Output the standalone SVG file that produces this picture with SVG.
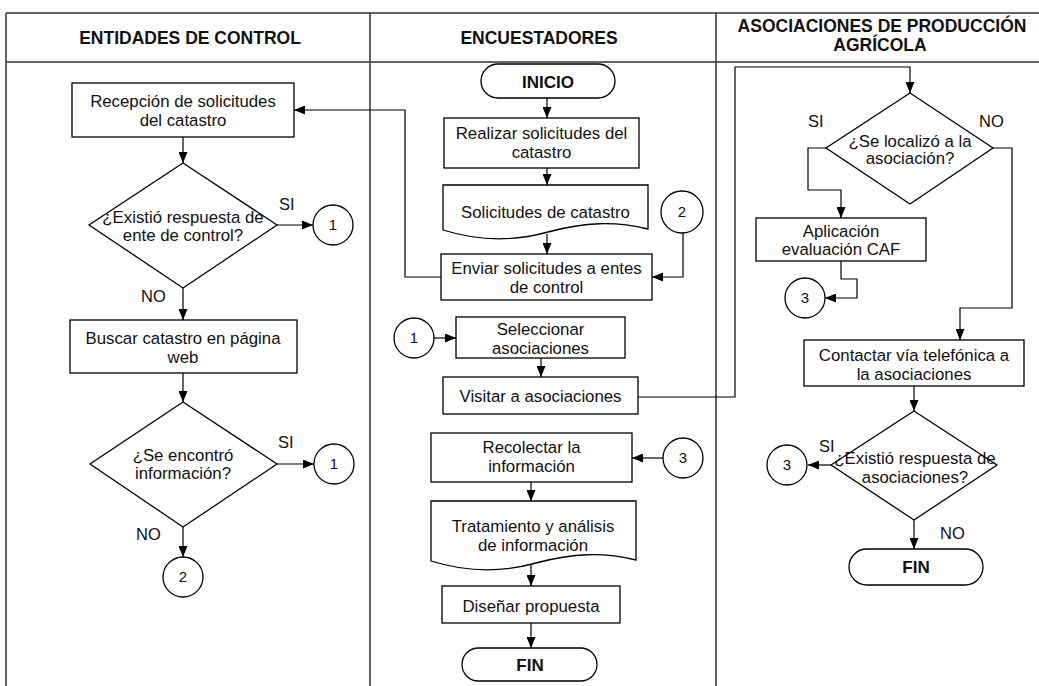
<svg xmlns="http://www.w3.org/2000/svg" width="1039" height="686" viewBox="0 0 1039 686">
<defs>
<marker id="ah" markerUnits="userSpaceOnUse" markerWidth="11" markerHeight="9" refX="11" refY="4.5" orient="auto"><path d="M0,0 L11,4.5 L0,9 Z" fill="#000"/></marker>
<style>
.frame{stroke:#333;stroke-width:1.5;fill:none}
.box{fill:#fff;stroke:#000;stroke-width:1.3}
.con{fill:none;stroke:#000;stroke-width:1.2}
.arr{fill:none;stroke:#000;stroke-width:1.2;marker-end:url(#ah)}
text{font-family:"Liberation Sans",Arial,sans-serif;fill:#111;text-anchor:middle}
.t{font-size:16.8px}
.h{font-size:17.5px;font-weight:bold}
.b{font-size:17px;font-weight:bold}
.n{font-size:15px}
.lbl{font-size:16.5px;text-anchor:start}
</style>
</defs>
<rect width="1039" height="686" fill="#fff"/>
<g id="frame">
<path class="frame" d="M6,13 H1039 M6,62 H1039 M6,13 V686 M370,13 V686 M716,13 V686"/>
<text class="h" x="190" y="44">ENTIDADES DE CONTROL</text>
<text class="h" x="539" y="44">ENCUESTADORES</text>
<text class="h" x="882" y="32">ASOCIACIONES DE PRODUCCIÓN</text>
<text class="h" x="880" y="51">AGRÍCOLA</text>
</g>
<g id="connectors">
<path class="arr" d="M183,137 V163"/>
<path class="arr" d="M277,225 H313"/>
<path class="arr" d="M183,288 V320"/>
<path class="arr" d="M183,373 V402"/>
<path class="arr" d="M277,464 H314"/>
<path class="arr" d="M183,527 V557"/>
<path class="arr" d="M547,98 V118"/>
<path class="arr" d="M547,168 V185"/>
<path class="arr" d="M547,234 V254"/>
<path class="arr" d="M683,233 V277 H652"/>
<path class="arr" d="M441,277 H405 V110 H294"/>
<path class="arr" d="M434,338 H456"/>
<path class="arr" d="M541,358 V377"/>
<path class="arr" d="M638,397 H735 V67 H910 V93"/>
<path class="arr" d="M663,458 H632"/>
<path class="arr" d="M531,482 V501"/>
<path class="arr" d="M531,565 V586"/>
<path class="arr" d="M531,623 V648"/>
<path class="arr" d="M826,148 H808 V190 H841 V218"/>
<path class="arr" d="M841,261 V279 H857 V298 H825"/>
<path class="arr" d="M993,148 H1012 V308 H960 V340"/>
<path class="arr" d="M914,386 V411"/>
<path class="arr" d="M831,465 H808"/>
<path class="arr" d="M914,520 V549"/>
</g>
<g id="n_recepcion"><rect class="box" x="72" y="83" width="222" height="54"/><text class="t" x="183" y="107">Recepción de solicitudes</text><text class="t" x="183" y="126">del catastro</text></g>
<g id="n_dec1"><polygon class="box" points="183,163 277,225 183,288 89,225"/><text class="t" x="183" y="223">¿Existió respuesta de</text><text class="t" x="183" y="241">ente de control?</text></g>
<text class="lbl" x="279" y="210">SI</text>
<text class="lbl" x="141" y="302">NO</text>
<g id="n_c1a"><circle class="box" cx="333" cy="225" r="20"/><text class="n" x="333" y="230">1</text></g>
<g id="n_buscar"><rect class="box" x="70" y="320" width="227" height="53"/><text class="t" x="183" y="344">Buscar catastro en página</text><text class="t" x="183" y="363">web</text></g>
<g id="n_dec2"><polygon class="box" points="183,402 277,464 183,527 90,464"/><text class="t" x="183" y="461">¿Se encontró</text><text class="t" x="183" y="479">información?</text></g>
<text class="lbl" x="278" y="448">SI</text>
<text class="lbl" x="136" y="540">NO</text>
<g id="n_c1b"><circle class="box" cx="334" cy="464" r="20"/><text class="n" x="334" y="469">1</text></g>
<g id="n_c2a"><circle class="box" cx="183" cy="577" r="20"/><text class="n" x="183" y="582">2</text></g>
<g id="n_inicio"><rect class="box" x="481" y="64" width="134" height="34" rx="17"/><text class="b" x="548" y="88">INICIO</text></g>
<g id="n_realizar"><rect class="box" x="444" y="118" width="195" height="50"/><text class="t" x="541.5" y="139">Realizar solicitudes del</text><text class="t" x="541.5" y="158">catastro</text></g>
<g id="n_doc1"><path class="box" d="M443,185 H648 V229 C615,221 585,222 548,232 C512,242 475,240 443,230 Z"/><text class="t" x="545.5" y="218">Solicitudes de catastro</text></g>
<g id="n_c2b"><circle class="box" cx="682" cy="212" r="21"/><text class="n" x="682" y="217">2</text></g>
<g id="n_enviar"><rect class="box" x="441" y="254" width="211" height="46"/><text class="t" x="546.5" y="274">Enviar solicitudes a entes</text><text class="t" x="546.5" y="293">de control</text></g>
<g id="n_c1c"><circle class="box" cx="414" cy="338" r="20"/><text class="n" x="414" y="343">1</text></g>
<g id="n_selec"><rect class="box" x="456" y="317" width="169" height="41"/><text class="t" x="540.5" y="335">Seleccionar</text><text class="t" x="540.5" y="354">asociaciones</text></g>
<g id="n_visitar"><rect class="box" x="443" y="377" width="195" height="37"/><text class="t" x="540.5" y="402">Visitar a asociaciones</text></g>
<g id="n_recolectar"><rect class="box" x="431" y="433" width="201" height="49"/><text class="t" x="531.5" y="453">Recolectar la</text><text class="t" x="531.5" y="472">información</text></g>
<g id="n_c3a"><circle class="box" cx="683" cy="458" r="20"/><text class="n" x="683" y="463">3</text></g>
<g id="n_doc2"><path class="box" d="M431,501 H636 V560 C603,552 573,553 536,563 C500,573 463,571 431,561 Z"/><text class="t" x="533" y="532">Tratamiento y análisis</text><text class="t" x="533" y="551">de información</text></g>
<g id="n_disenar"><rect class="box" x="442" y="586" width="178" height="37"/><text class="t" x="531" y="612">Diseñar propuesta</text></g>
<g id="n_fin1"><rect class="box" x="462" y="648" width="135" height="33" rx="16.5"/><text class="b" x="530" y="671">FIN</text></g>
<g id="n_dec3"><polygon class="box" points="910,93 993,148 910,204 826,148"/><text class="t" x="910" y="147">¿Se localizó a la</text><text class="t" x="910" y="164">asociación?</text></g>
<text class="lbl" x="808" y="127">SI</text>
<text class="lbl" x="979" y="127">NO</text>
<g id="n_caf"><rect class="box" x="756" y="218" width="170" height="43"/><text class="t" x="841" y="237">Aplicación</text><text class="t" x="841" y="255">evaluación CAF</text></g>
<g id="n_c3b"><circle class="box" cx="805" cy="298" r="20"/><text class="n" x="805" y="303">3</text></g>
<g id="n_contactar"><rect class="box" x="804" y="340" width="220" height="46"/><text class="t" x="914" y="361">Contactar vía telefónica a</text><text class="t" x="914" y="380">la asociaciones</text></g>
<g id="n_dec4"><polygon class="box" points="914,411 997,465 914,520 831,465"/><text class="t" x="915" y="464">¿Existió respuesta de</text><text class="t" x="915" y="483">asociaciones?</text></g>
<text class="lbl" x="819" y="452">SI</text>
<text class="lbl" x="940" y="539">NO</text>
<g id="n_c3c"><circle class="box" cx="787" cy="465" r="20"/><text class="n" x="787" y="470">3</text></g>
<g id="n_fin2"><rect class="box" x="849" y="549" width="134" height="36" rx="18"/><text class="b" x="916" y="573">FIN</text></g>
</svg>
